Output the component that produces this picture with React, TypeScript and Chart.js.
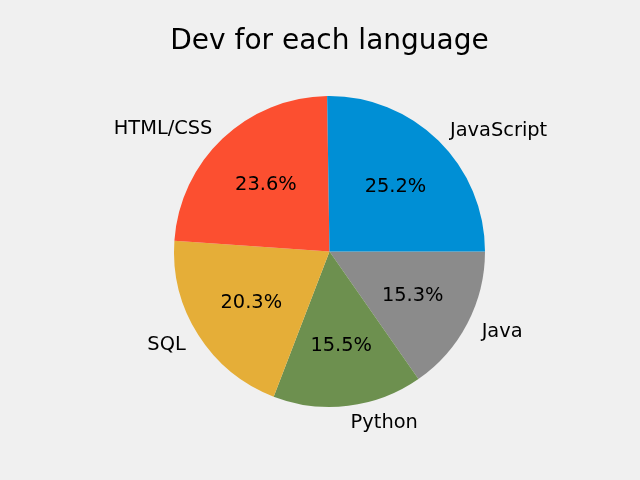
import React, { useEffect, useRef } from "react";
import { Chart, registerables } from "chart.js";

Chart.register(...registerables);

const TITLE = "Dev for each language";
const languages = ["JavaScript", "HTML/CSS", "SQL", "Python", "Java"];
const devCounts = [59219, 55466, 47544, 36443, 35917];
const sliceColors = ["#008fd5", "#fc4f30", "#e5ae38", "#6d904f", "#8b8b8b"];

// matplotlib draws counter-clockwise from 3 o'clock; Chart.js draws clockwise,
// so feed the slices in reverse order starting at 3 o'clock.
const labelsRev = [...languages].reverse();
const valuesRev = [...devCounts].reverse();
const colorsRev = [...sliceColors].reverse();

const FONT = "'DejaVu Sans', sans-serif";

const pieTextPlugin = {
  id: "pieText",
  beforeDraw(chart: any) {
    const ctx = chart.ctx;
    ctx.save();
    ctx.fillStyle = "#f0f0f0";
    ctx.fillRect(0, 0, chart.width, chart.height);
    ctx.restore();
  },
  afterDatasetsDraw(chart: any) {
    const ctx = chart.ctx;
    const meta = chart.getDatasetMeta(0);
    const data = chart.data.datasets[0].data as number[];
    const total = data.reduce((a, b) => a + b, 0);
    ctx.save();
    ctx.fillStyle = "#000000";
    meta.data.forEach((arc: any, i: number) => {
      const p = arc.getProps(["x", "y", "startAngle", "endAngle", "outerRadius"], true);
      const mid = (p.startAngle + p.endAngle) / 2;
      const c = Math.cos(mid);
      const s = Math.sin(mid);
      ctx.font = `19.4px ${FONT}`;
      ctx.textBaseline = "middle";
      // outer label
      ctx.textAlign = c > 0 ? "left" : "right";
      ctx.fillText(chart.data.labels[i], p.x + 1.1 * p.outerRadius * c + 0.5, p.y + 1.1 * p.outerRadius * s + 1.5);
      // percentage
      ctx.textAlign = "center";
      const pct = ((data[i] / total) * 100).toFixed(1) + "%";
      ctx.fillText(pct, p.x + 0.6 * p.outerRadius * c + 0.5, p.y + 0.6 * p.outerRadius * s + 1.5);
    });
    // title
    ctx.font = `28px ${FONT}`;
    ctx.textAlign = "center";
    ctx.textBaseline = "middle";
    ctx.fillText(TITLE, 329.5, 42);
    ctx.restore();
  },
};

export default function App() {
  const ref = useRef<HTMLCanvasElement>(null);
  useEffect(() => {
    document.body.style.margin = "0";
    document.body.style.background = "#f0f0f0";
    const chart = new Chart(ref.current!, {
      type: "pie",
      data: {
        labels: labelsRev,
        datasets: [
          {
            data: valuesRev,
            backgroundColor: colorsRev,
            borderWidth: 0,
          },
        ],
      },
      options: {
        responsive: false,
        animation: false,
        rotation: 90,
        layout: { padding: { left: 174, right: 155, top: 96, bottom: 73 } },
        plugins: {
          legend: { display: false },
          title: { display: false },
          tooltip: { enabled: false },
        },
      },
      plugins: [pieTextPlugin],
    });
    return () => chart.destroy();
  }, []);
  return (
    <div style={{ position: "absolute", left: 0, top: 0, width: 640, height: 480 }}>
      <canvas ref={ref} width={640} height={480} style={{ display: "block" }} />
    </div>
  );
}
